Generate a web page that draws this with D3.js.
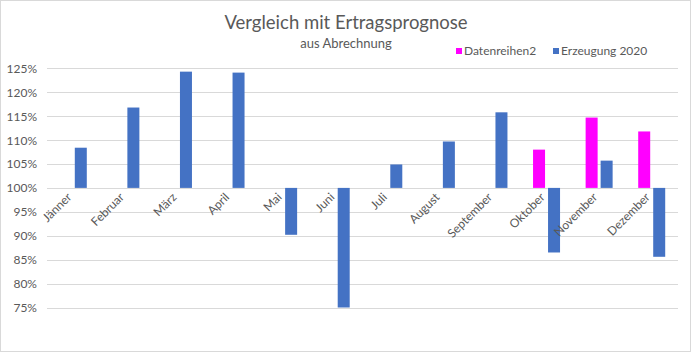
<!DOCTYPE html>
<html>
<head>
<meta charset="utf-8">
<script src="https://cdn.jsdelivr.net/npm/d3@7"></script>
<style>
  body { margin: 0; background: #fff; }
  svg text { font-family: Lato, "Open Sans", sans-serif; }
</style>
</head>
<body>
<svg id="chart" width="693" height="353"></svg>
<script>
// categories and series
const months = ["Jänner", "Februar", "März", "April", "Mai", "Juni", "Juli",
  "August", "September", "Oktober", "November", "Dezember"];
const seriesNames = ["Datenreihen2", "Erzeugung 2020"];
const seriesColors = ["#ff00ff", "#4472c4"];
const datenreihen2 = [null, null, null, null, null, null, null, null, null, 1.080, 1.147, 1.118];
const erzeugung2020 = [1.084, 1.168, 1.243, 1.241, 0.902, 0.75, 1.049, 1.097, 1.158, 0.865, 1.057, 0.856];
const yTicks = [0.75, 0.80, 0.85, 0.90, 0.95, 1.00, 1.05, 1.10, 1.15, 1.20, 1.25];

const svg = d3.select("#chart");

// outer border
svg.append("rect")
  .attr("x", 0.5).attr("y", 0.5)
  .attr("width", 690).attr("height", 351)
  .attr("fill", "#fff")
  .attr("stroke", "#d9d9d9");

var x = d3.scaleBand().domain(months).range([47, 678]).padding(0);
var xs = d3.scaleBand().domain(seriesNames).range([0, 27]).paddingInner(0.2);
var y = d3.scaleLinear().domain([0.75, 1.25]).range([307.5, 68.3]);

// gridlines
svg.append("g")
  .selectAll("line")
  .data(yTicks)
  .enter()
  .append("line")
  .attr("x1", 47).attr("x2", 678)
  .attr("y1", (d) => Math.round(y(d)) + 0.5)
  .attr("y2", (d) => Math.round(y(d)) + 0.5)
  .attr("stroke", "#d9d9d9")
  .attr("stroke-width", 1);

// y labels
svg.append("g")
  .selectAll("text")
  .data(yTicks)
  .enter()
  .append("text")
  .attr("x", 37)
  .attr("y", (d) => y(d) + 4.5)
  .attr("text-anchor", "end")
  .attr("font-size", 12)
  .attr("fill", "#595959")
  .text((d) => d3.format(".0%")(d));

// bars
const allSeries = [datenreihen2, erzeugung2020];
allSeries.forEach(function (vals, si) {
  svg.append("g")
    .selectAll("rect")
    .data(vals.map((v, i) => ({ m: months[i], v: v })).filter((d) => d.v != null))
    .enter()
    .append("rect")
    .attr("x", (d) => x(d.m) + x.bandwidth() / 2 - 13.5 + xs(seriesNames[si]))
    .attr("width", xs.bandwidth())
    .attr("y", (d) => Math.min(y(d.v), y(1)))
    .attr("height", (d) => Math.abs(y(d.v) - y(1)))
    .attr("fill", seriesColors[si]);
});

// month labels
svg.append("g")
  .selectAll("text")
  .data(months)
  .enter()
  .append("text")
  .attr("transform", (d) => "translate(" + (x(d) + x.bandwidth() / 2 - 1) + ",198) rotate(-45)")
  .attr("text-anchor", "end")
  .attr("font-size", 12)
  .attr("fill", "#595959")
  .text((d) => d);

// title
svg.append("text")
  .attr("x", 346).attr("y", 29)
  .attr("text-anchor", "middle")
  .attr("font-size", 18.5)
  .attr("fill", "#595959")
  .text("Vergleich mit Ertragsprognose");

svg.append("text")
  .attr("x", 346).attr("y", 48)
  .attr("text-anchor", "middle")
  .attr("font-size", 13)
  .attr("fill", "#595959")
  .text("aus Abrechnung");

// legend
const legendX = [456, 553];
seriesNames.forEach(function (name, i) {
  svg.append("rect")
    .attr("x", legendX[i]).attr("y", 48)
    .attr("width", 6).attr("height", 6)
    .attr("fill", seriesColors[i]);
  svg.append("text")
    .attr("x", legendX[i] + 8).attr("y", 54.5)
    .attr("font-size", 12)
    .attr("fill", "#595959")
    .text(name);
});
</script>
</body>
</html>
